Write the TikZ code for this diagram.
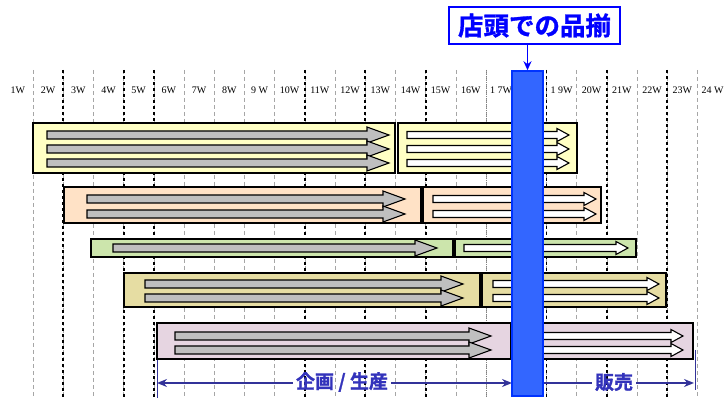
\documentclass[tikz,border=0pt]{standalone}
\usepackage{fontspec}
\setmainfont{Liberation Serif}
\newfontfamily\cjk{Noto Sans CJK JP}[BoldFont={Noto Sans CJK JP Bold}, BoldFeatures={FakeBold=1.2}]
\usetikzlibrary{arrows.meta}
\definecolor{rowyellow}{HTML}{FFFFC4}
\definecolor{rowpeach}{HTML}{FFE2C6}
\definecolor{rowgreen}{HTML}{CCE5AC}
\definecolor{rowkhaki}{HTML}{E6DDA3}
\definecolor{rowlilac}{HTML}{E6D5E1}
\definecolor{spanblue}{HTML}{333399}
\definecolor{spantext}{HTML}{3333BB}
\definecolor{barblue}{HTML}{3366FF}
\definecolor{baredge}{HTML}{0033FF}
% gray planning arrow: from x #1 to tip x #2 at height #3
\newcommand{\planarrow}[3]{\draw[flowarr, fill=black!25] (#1,#3-4) -- (#2-22,#3-4) -- (#2-22,#3-8) -- (#2,#3) -- (#2-22,#3+8) -- (#2-22,#3+4) -- (#1,#3+4) -- cycle;}
% white sales arrow
\newcommand{\salesarrow}[3]{\draw[flowarr, fill=white] (#1,#3-3.5) -- (#2-12,#3-3.5) -- (#2-12,#3-6.5) -- (#2,#3) -- (#2-12,#3+6.5) -- (#2-12,#3+3.5) -- (#1,#3+3.5) -- cycle;}
\begin{document}
\begin{tikzpicture}[x=1pt, y=-1pt,
 gridline/.style={gray!70, line width=0.5pt, dash pattern=on 4pt off 3pt},
 boundline/.style={black, line width=1.8pt, dash pattern=on 3pt off 3pt},
 weeklbl/.style={font=\fontsize{10}{12}\selectfont, inner sep=0pt},
 rowbox/.style={draw, line width=1.1pt},
 flowarr/.style={draw, line width=1.1pt, line join=miter},
 spanline/.style={spanblue, line width=1.5pt},
 spantip/.style={spanline, -{Stealth[length=10pt,width=8pt]}},
 spanlbl/.style={text=spantext, inner sep=3pt, font=\cjk\bfseries\fontsize{19}{21}\selectfont},
 shelfbar/.style={draw=baredge, fill=barblue, line width=1.5pt, minimum width=31pt, minimum height=325pt, inner sep=0pt},
 callout/.style={draw=blue, line width=2pt, fill=white, text=blue, font=\cjk\bfseries\fontsize{25.5}{27}\selectfont, minimum width=171pt, minimum height=37pt, inner sep=0pt},
 callarr/.style={-{Stealth[length=9pt,width=8pt]}, blue, line width=1.5pt},
]
\useasboundingbox (0,0) rectangle (724,398);
% week grid
\foreach \k in {0,...,22}
  \draw[gridline] ({33+30.2*\k},70) -- ({33+30.2*\k},398);
\draw[gray, line width=0.8pt, dash pattern=on 1pt off 1pt] ({33+30.2*15},70) -- ({33+30.2*15},398);
\foreach \k in {1,3,4,9,11,13,17,19,21}
  \draw[boundline] ({33+30.2*\k},70) -- ({33+30.2*\k},398);
\foreach \k/\t in {1/1W,2/2W,3/3W,4/4W,5/5W,6/6W,7/7W,8/8W,9/9 W,10/10W,11/11W,12/12W,
  13/13W,14/14W,15/15W,16/16W,17/1 7W,19/1 9W,20/20W,21/21W,22/22W,23/23W,24/24 W}
  \node[weeklbl] (w\k) at ({17.9+30.2*(\k-1)},90) {\t};

% rows
\draw[rowbox, fill=rowyellow] (33,123) rectangle (395,173);
\draw[rowbox, fill=rowyellow] (398,123) rectangle (577,173);
\foreach \y in {135,149,163} {\planarrow{47}{389}{\y} \salesarrow{407}{569}{\y}}

\draw[rowbox, fill=rowpeach] (64,187) rectangle (421,223);
\draw[rowbox, fill=rowpeach] (423,187) rectangle (601,223);
\foreach \y in {199,214} {\planarrow{87}{405}{\y} \salesarrow{433}{596}{\y}}

\draw[rowbox, fill=rowgreen] (91,239) rectangle (453,257);
\draw[rowbox, fill=rowgreen] (455,239) rectangle (636,257);
\planarrow{113}{437}{248} \salesarrow{464}{628}{248}

\draw[rowbox, fill=rowkhaki] (124,273) rectangle (480,307);
\draw[rowbox, fill=rowkhaki] (482,273) rectangle (666,307);
\foreach \y in {284,298} {\planarrow{145}{463}{\y} \salesarrow{493}{659}{\y}}

\draw[rowbox, fill=rowlilac] (157,323) rectangle (511,359);
\draw[rowbox, fill=rowlilac] (511,323) rectangle (693,359);
\foreach \y in {336,350} {\planarrow{175}{491}{\y} \salesarrow{522}{683}{\y}}

% spans
\coordinate (planstart) at (157,383);
\coordinate (planend) at (512,383);
\coordinate (salesend) at (694,383);
\draw[spanblue, line width=1pt] (157,360) -- (157,398);
\draw[spanblue, line width=1pt] (695,350) -- (695,390);
\node[spanlbl] (planlbl) at (342,382) {企画 / 生産};
\node[spanlbl] (saleslbl) at (614,382) {販売};
\draw[spantip] (planlbl.west |- planstart) -- (planstart);
\draw[spantip] (planlbl.east |- planend) -- (planend);
\draw[spantip] (saleslbl.west |- planend) -- (planend);
\draw[spantip] (saleslbl.east |- salesend) -- (salesend);

% shelf bar and callout
\node[shelfbar] (shelf) at (527.5,233.5) {};
\node[callout] (shelfcall) at (534.5,25.5) {店頭での品揃};
\draw[callarr] (shelfcall.south -| shelf.north) -- (shelf.north);
\end{tikzpicture}
\end{document}
